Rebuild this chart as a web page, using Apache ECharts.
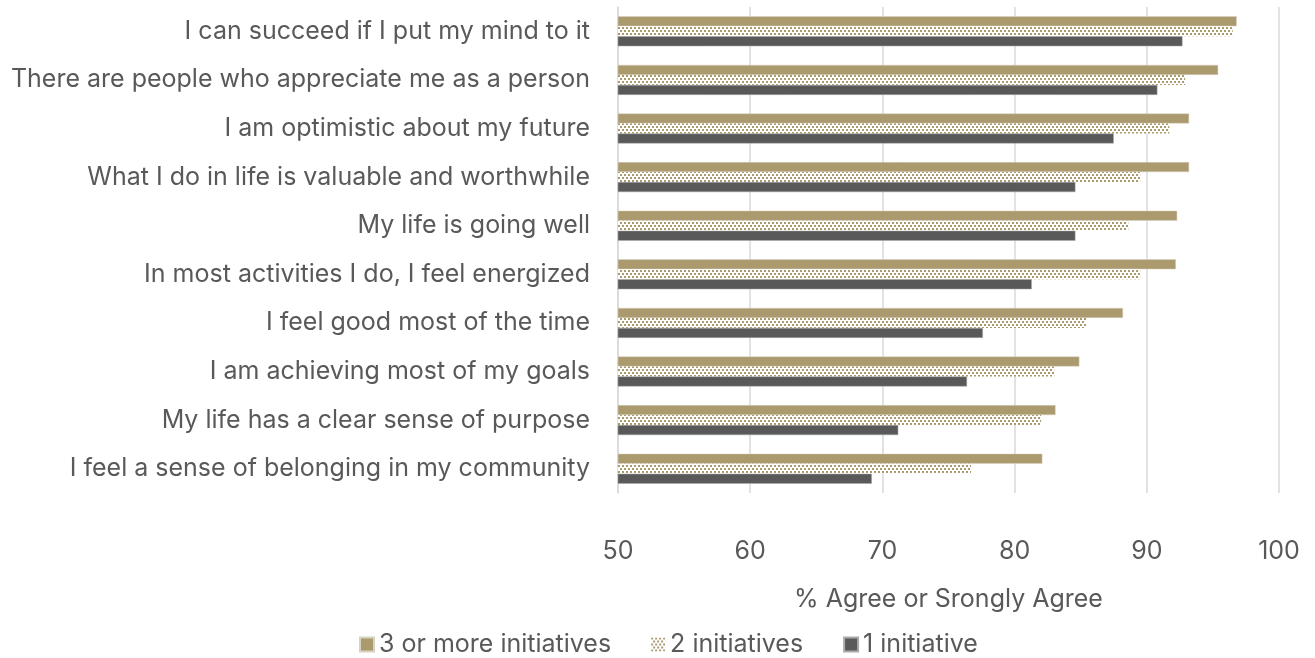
<!DOCTYPE html>
<html>
<head>
<meta charset="utf-8">
<script src="https://cdn.jsdelivr.net/npm/echarts@6/dist/echarts.min.js"></script>
<style>
  html, body { margin: 0; padding: 0; background: #fff; }
  #chart { width: 1315px; height: 658px; }
</style>
</head>
<body>
<div id="chart"></div>
<script>
// Survey statements, listed top to bottom
const categories = [
  'I can succeed if I put my mind to it',
  'There are people who appreciate me as a person',
  'I am optimistic about my future',
  'What I do in life is valuable and worthwhile',
  'My life is going well',
  'In most activities I do, I feel energized',
  'I feel good most of the time',
  'I am achieving most of my goals',
  'My life has a clear sense of purpose',
  'I feel a sense of belonging in my community'
];

const seriesNames = ['3 or more initiatives', '2 initiatives', '1 initiative'];

// % agree or strongly agree, by number of initiatives
const threeOrMore = [96.8, 95.4, 93.2, 93.2, 92.3, 92.2, 88.2, 84.9, 83.1, 82.1];
const twoInit     = [96.5, 92.9, 91.7, 89.5, 88.6, 89.5, 85.4, 83.0, 82.0, 76.7];
const oneInit     = [92.7, 90.8, 87.5, 84.6, 84.6, 81.3, 77.6, 76.4, 71.2, 69.2];

const xTicks = { min: 50, max: 100, interval: 10 };

const TAN = '#AA9A6E';
const DARK = '#595959';
const TEXT = '#595959';
const FONT = 'Inter, "Liberation Sans", Arial, sans-serif';
const FS = 25;

// Dotted fill for the middle series
function dotPattern() {
  const c = document.createElement('canvas');
  c.width = 4; c.height = 6;
  const g = c.getContext('2d');
  g.fillStyle = '#ffffff';
  g.fillRect(0, 0, 4, 6);
  g.fillStyle = TAN;
  g.fillRect(0, 0, 2, 2);
  g.fillRect(2, 3, 2, 2);
  return c;
}

const chart = echarts.init(document.getElementById('chart'), null, { renderer: 'canvas' });

const barCommon = {
  type: 'bar',
  barWidth: 10,
  barGap: '0%',
  emphasis: { disabled: true }
};

chart.setOption({
  animation: false,
  textStyle: { fontFamily: FONT, color: TEXT },
  grid: { left: 618, right: 36, top: 7, bottom: 165, containLabel: false },
  legend: {
    data: seriesNames,
    top: 627,
    left: 354,
    icon: 'rect',
    itemWidth: 14,
    itemHeight: 14,
    itemGap: 40,
    textStyle: { fontFamily: FONT, fontSize: FS, color: TEXT }
  },
  xAxis: {
    type: 'value',
    min: xTicks.min,
    max: xTicks.max,
    interval: xTicks.interval,
    name: '% Agree or Srongly Agree',
    nameLocation: 'middle',
    nameGap: 94,
    nameTextStyle: { fontFamily: FONT, fontSize: FS, color: TEXT },
    axisLine: { show: false },
    axisTick: { show: false },
    axisLabel: { fontFamily: FONT, fontSize: FS, color: TEXT, margin: 46 },
    splitLine: { show: true, lineStyle: { color: '#d9d9d9', width: 1.5 } }
  },
  yAxis: {
    type: 'category',
    data: categories,
    inverse: true,
    axisLine: { show: true, lineStyle: { color: '#d9d9d9', width: 1.5 } },
    axisTick: { show: false },
    axisLabel: { fontFamily: FONT, fontSize: FS, color: TEXT, margin: 28 }
  },
  series: [
    Object.assign({}, barCommon, {
      name: seriesNames[0],
      data: threeOrMore,
      itemStyle: { color: TAN, borderColor: '#d8d2c0', borderWidth: 0.5 }
    }),
    Object.assign({}, barCommon, {
      name: seriesNames[1],
      data: twoInit,
      itemStyle: { color: { image: dotPattern(), repeat: 'repeat' } }
    }),
    Object.assign({}, barCommon, {
      name: seriesNames[2],
      data: oneInit,
      itemStyle: { color: DARK, borderColor: '#aaaaaa', borderWidth: 0.5 }
    })
  ]
});
</script>
</body>
</html>
